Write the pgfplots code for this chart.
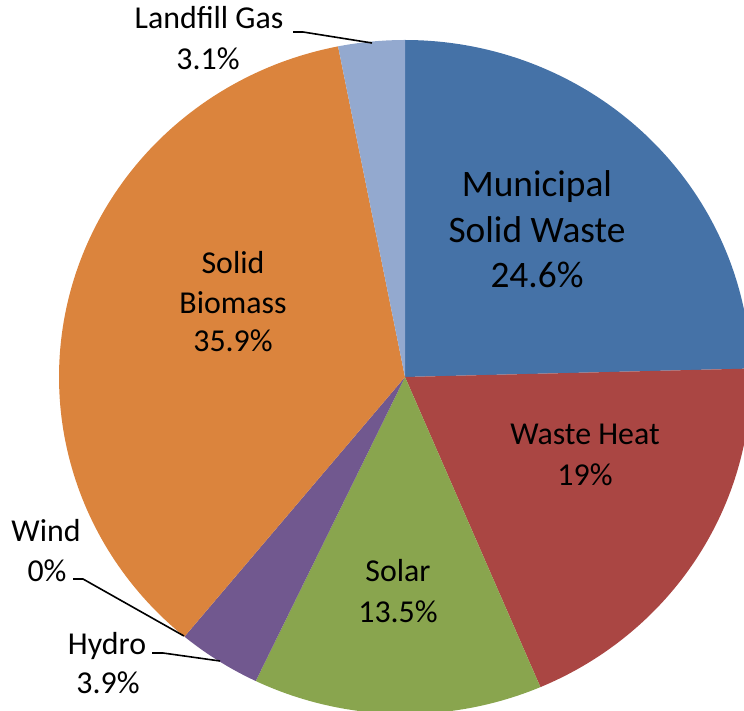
\documentclass[border=0pt]{standalone}
\usepackage{pgfplots}
\pgfplotsset{compat=1.18}
\usepackage{pgfplotstable}
\usepackage{fontspec}
\setmainfont{Carlito}
\definecolor{slice0}{HTML}{4572A7}
\definecolor{slice1}{HTML}{AA4643}
\definecolor{slice2}{HTML}{89A54E}
\definecolor{slice3}{HTML}{71588F}
\definecolor{slice4}{HTML}{4198AF}
\definecolor{slice5}{HTML}{DB843D}
\definecolor{slice6}{HTML}{93A9CF}
\pgfplotstableread{
label pct
MSW 24.6
WasteHeat 19
Solar 13.5
Hydro 3.9
Wind 0
Biomass 35.9
Landfill 3.1
}\piedata
\begin{document}
\begin{tikzpicture}
\begin{axis}[
  width=744bp, height=711bp, scale only axis,
  xmin=0, xmax=744, ymin=0, ymax=711,
  hide axis, clip=true,
]
\path (rel axis cs:0,0) rectangle (rel axis cs:1,1);
\def\tA{90}
\pgfplotsforeachungrouped \i in {0,...,6}{%
  \pgfplotstablegetelem{\i}{pct}\of\piedata
  \pgfmathsetmacro\tB{\tA-3.6*\pgfplotsretval}%
  \ifdim\pgfplotsretval pt>0pt
    \edef\cmd{\noexpand\addplot[fill=slice\i, draw=none, domain=\tB:\tA, samples=120] ({405+346*cos(x)},{334+337*sin(x)}) -- (axis cs:405,334) -- cycle;}%
    \cmd
  \fi
  \global\let\tA\tB
}
% leader lines
\draw[black, line width=1.6bp] (axis cs:293,679) -- (axis cs:303,679) -- (axis cs:372,668);
\draw[black, line width=1.6bp] (axis cs:73,132) -- (axis cs:83,132) -- (axis cs:184,75);
\draw[black, line width=1.6bp] (axis cs:152,58) -- (axis cs:163,58) -- (axis cs:220,50);
% labels
\def\big{\fontsize{37.5}{45}\selectfont}
\def\sm{\fontsize{32}{39}\selectfont}
\node[anchor=base, inner sep=0pt, font=\big] at (axis cs:537,514) {Municipal};
\node[anchor=base, inner sep=0pt, font=\big] at (axis cs:537,468) {Solid Waste};
\node[anchor=base, inner sep=0pt, font=\big] at (axis cs:537,423) {24.6\%};
\node[anchor=base, inner sep=0pt, font=\sm] at (axis cs:233,437) {Solid};
\node[anchor=base, inner sep=0pt, font=\sm] at (axis cs:233,397) {Biomass};
\node[anchor=base, inner sep=0pt, font=\sm] at (axis cs:233,359) {35.9\%};
\node[anchor=base, inner sep=0pt, font=\sm] at (axis cs:585,266) {Waste Heat};
\node[anchor=base, inner sep=0pt, font=\sm] at (axis cs:585,225) {19\%};
\node[anchor=base, inner sep=0pt, font=\sm] at (axis cs:398,129) {Solar};
\node[anchor=base, inner sep=0pt, font=\sm] at (axis cs:398,88) {13.5\%};
\node[anchor=base, inner sep=0pt, font=\sm] at (axis cs:209,682) {Landfill Gas};
\node[anchor=base, inner sep=0pt, font=\sm] at (axis cs:208,641) {3.1\%};
\node[anchor=base, inner sep=0pt, font=\sm] at (axis cs:46,169) {Wind};
\node[anchor=base, inner sep=0pt, font=\sm] at (axis cs:47,129) {0\%};
\node[anchor=base, inner sep=0pt, font=\sm] at (axis cs:107,56) {Hydro};
\node[anchor=base, inner sep=0pt, font=\sm] at (axis cs:108,17) {3.9\%};
\end{axis}
\end{tikzpicture}
\end{document}
